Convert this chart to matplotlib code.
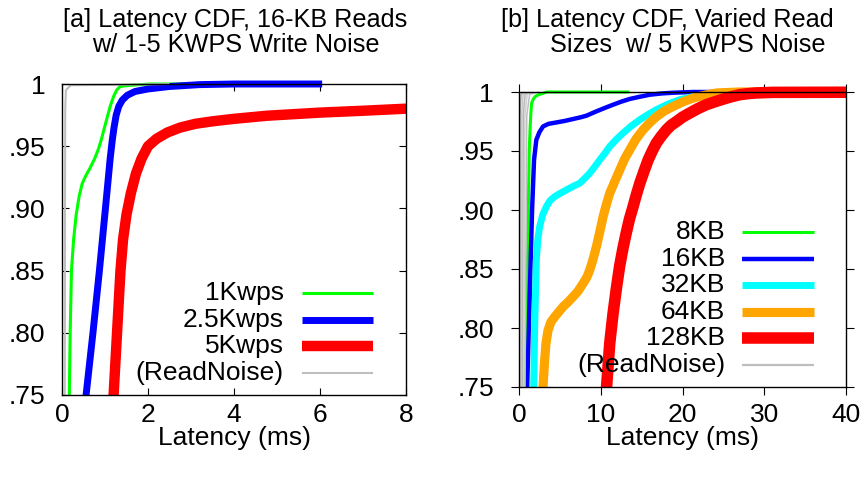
import matplotlib
matplotlib.use("Agg")
import matplotlib.pyplot as plt
from matplotlib.patches import Rectangle

plt.rcParams["font.family"] = ["Liberation Sans", "DejaVu Sans"]
plt.rcParams["font.size"] = 19

# ---------------- panel [a]: 16-KB reads under write noise ----------------
lat_1k = [0.15, 0.17, 0.19, 0.22, 0.27, 0.33, 0.40, 0.47, 0.55, 0.66, 0.76, 0.85, 0.92, 0.98,
          1.05, 1.12, 1.20, 1.27, 1.35, 1.6, 2.05, 3.0]
cdf_1k = [0.745, 0.75, 0.80, 0.85, 0.875, 0.895, 0.91, 0.92, 0.926, 0.933, 0.94, 0.948, 0.956, 0.964,
          0.973, 0.982, 0.99, 0.995, 0.998, 0.999, 1.0, 1.0]

lat_2k5 = [0.53, 0.56, 0.72, 0.87, 1.01, 1.12, 1.17, 1.21, 1.26, 1.32, 1.40, 1.52, 1.70, 2.0,
           2.5, 3.2, 4.0, 6.05]
cdf_2k5 = [0.745, 0.75, 0.80, 0.85, 0.90, 0.94, 0.955, 0.965, 0.975, 0.982, 0.987, 0.991, 0.994, 0.996,
           0.998, 0.9995, 1.0, 1.0]

lat_5k = [1.18, 1.20, 1.28, 1.36, 1.42, 1.50, 1.60, 1.72, 1.85, 2.0, 2.2, 2.45, 2.75, 3.1, 3.5,
          4.0, 4.77, 6.0, 7.0, 8.2]
cdf_5k = [0.745, 0.75, 0.80, 0.85, 0.875, 0.895, 0.912, 0.928, 0.940, 0.950, 0.956, 0.961, 0.965, 0.968, 0.970,
          0.972, 0.9745, 0.977, 0.9785, 0.9805]

lat_rn_a = [0.06, 0.065, 0.07, 0.075, 0.09, 0.2, 1.5, 2.5]
cdf_rn_a = [0.745, 0.75, 0.90, 0.98, 0.995, 0.999, 0.9995, 1.0]

labels_a = ["1Kwps", "2.5Kwps", "5Kwps", "(ReadNoise)"]
xticks_a = [0, 2, 4, 6, 8]

# ---------------- panel [b]: varied read sizes under 5 KWPS noise ----------------
lat_8 = [0.82, 0.85, 0.95, 1.1, 1.25, 1.35, 1.45, 1.55, 1.75, 1.96, 2.3, 2.57, 3.0, 3.4, 13.5]
cdf_8 = [0.745, 0.75, 0.82, 0.88, 0.95, 0.968, 0.982, 0.9907, 0.994, 0.996, 0.9975, 0.998, 0.999, 1.0, 1.0]

lat_16 = [0.95, 1.0, 1.2, 1.4, 1.6, 1.84, 2.12, 2.5, 2.94, 3.6, 4.57, 5.6, 6.61, 7.5, 8.24, 9.0, 9.47,
          10.5, 11.5, 12.5, 13.55, 14.8, 16.0, 17.5, 18.9, 21.3, 28.0]
cdf_16 = [0.745, 0.75, 0.80, 0.85, 0.90, 0.9425, 0.9595, 0.966, 0.9708, 0.9730, 0.9742, 0.9755, 0.9771,
          0.9785, 0.9799, 0.9822, 0.9836, 0.9865, 0.9892, 0.9918, 0.9941, 0.996, 0.9977, 0.9988, 0.9994,
          1.0, 1.0]

lat_32 = [1.78, 1.80, 1.92, 2.12, 2.3, 2.53, 2.9, 3.35, 3.8, 4.37, 5.0, 5.8, 6.6, 7.43, 8.0, 8.65, 9.3,
          9.88, 10.5, 11.1, 11.9, 12.73, 13.7, 14.78, 15.8, 16.8, 18.2, 19.67, 21.2, 22.9, 24.5, 26.2, 32.0]
cdf_32 = [0.745, 0.75, 0.801, 0.8576, 0.875, 0.8859, 0.896, 0.9029, 0.908, 0.9114, 0.914, 0.917, 0.92,
          0.9227, 0.9265, 0.9312, 0.937, 0.9425, 0.948, 0.9538, 0.9598, 0.9652, 0.971, 0.9765, 0.981, 0.985,
          0.9897, 0.9935, 0.996, 0.9977, 0.999, 0.9997, 1.0]

lat_64 = [2.9, 2.94, 3.14, 3.3, 3.55, 3.9, 4.37, 5.39, 6.0, 6.6, 7.2, 7.84, 8.3, 8.65, 9.05, 9.47, 9.9,
          10.29, 10.7, 11.1, 11.7, 12.33, 12.9, 13.55, 14.3, 15.18, 16.0, 16.8, 17.8, 18.86, 20.0, 21.3,
          22.7, 24.2, 27.0, 40.0]
cdf_64 = [0.745, 0.75, 0.773, 0.787, 0.798, 0.805, 0.8095, 0.818, 0.822, 0.8264, 0.831, 0.8378, 0.843,
          0.849, 0.858, 0.869, 0.882, 0.8944, 0.905, 0.9142, 0.924, 0.934, 0.943, 0.951, 0.96, 0.968, 0.974,
          0.979, 0.984, 0.9878, 0.9915, 0.9949, 0.9973, 0.9992, 1.0, 1.0]

lat_128 = [10.6, 10.7, 11.1, 11.5, 11.9, 12.3, 12.7, 13.1, 13.5, 13.96, 14.36, 14.78, 15.3, 15.8, 16.3,
           16.8, 17.4, 18.04, 18.6, 19.27, 20.0, 20.9, 21.9, 22.9, 24.0, 25.0, 26.0, 27.0, 28.0, 29.0,
           31.1, 40.0]
cdf_128 = [0.745, 0.749, 0.787, 0.812, 0.833, 0.852, 0.867, 0.880, 0.892, 0.903, 0.913, 0.9227, 0.933,
           0.9425, 0.950, 0.9567, 0.9625, 0.968, 0.9718, 0.975, 0.9787, 0.9822, 0.986, 0.9892, 0.9918,
           0.994, 0.996, 0.9977, 0.9986, 0.9992, 0.9997, 0.9998]

# read-only (no write noise) CDFs, one per read size
lat_rn_b = [
    [0.10, 0.11, 0.13, 0.25, 0.6],
    [0.25, 0.27, 0.32, 0.50, 0.9],
    [0.40, 0.43, 0.52, 0.75, 1.3],
    [0.55, 0.58, 0.72, 1.00, 1.8],
    [0.70, 0.74, 0.95, 1.30, 2.5],
]
cdf_rn_b = [0.745, 0.75, 0.98, 0.998, 1.0]

labels_b = ["8KB", "16KB", "32KB", "64KB", "128KB", "(ReadNoise)"]
xticks_b = [0, 10, 20, 30, 40]

yticks = [0.75, 0.80, 0.85, 0.90, 0.95, 1.0]
ytick_labels = [".75", ".80", ".85", ".90", ".95", "1"]

GREEN, BLUE, RED, CYAN, ORANGE, GREY = "#00ff00", "#0000ff", "#ff0000", "#00ffff", "#ffa500", "#bebebe"
GREY_SHADES = ["#a8a8a8", "#c8c8c8", "#b8b8b8", "#d0d0d0", "#c0c0c0"]

W, H = 868, 479
fig = plt.figure(figsize=(W / 100, H / 100), dpi=100)


def px_axes(x0, y0, x1, y1):
    return fig.add_axes([x0 / W, 1 - y1 / H, (x1 - x0) / W, (y1 - y0) / H])


ax_a = px_axes(62, 84, 406, 395)
ax_b = px_axes(519, 92, 846, 387)


def draw(ax, x, y, color, lw):
    (ln,) = ax.plot(x, y, color=color, lw=lw, solid_joinstyle="round", solid_capstyle="butt")
    ln.set_clip_path(Rectangle((0, 0), 1, 1.06, transform=ax.transAxes))
    return ln


def key(ax, labels, styles, text_x, h0, h1, y_top, step_px, ax_h_px):
    for i, (lab, (c, lw)) in enumerate(zip(labels, styles)):
        yf = y_top - i * step_px / ax_h_px
        ax.plot([h0, h1], [yf, yf], color=c, lw=lw, transform=ax.transAxes, clip_on=False,
                solid_capstyle="butt")
        ax.text(text_x, yf, lab, transform=ax.transAxes, ha="right", va="center", fontsize=19)


# panel [a]
styles_a = [(GREEN, 2.2), (BLUE, 5.0), (RED, 7.5), (GREY, 1.5)]
for (x, y), (c, lw) in zip([(lat_1k, cdf_1k), (lat_2k5, cdf_2k5), (lat_5k, cdf_5k), (lat_rn_a, cdf_rn_a)], styles_a):
    draw(ax_a, x, y, c, lw)
ax_a.set_xlim(0, 8)
ax_a.set_ylim(0.75, 1.0)
ax_a.set_xticks(xticks_a)
ax_a.set_yticks(yticks)
ax_a.set_yticklabels(ytick_labels)
ax_a.tick_params(direction="in", length=5, width=0.8, top=True, right=True, labelsize=19)
ax_a.tick_params(axis="y", pad=12)
ax_a.tick_params(axis="x", pad=6)
key(ax_a, labels_a, styles_a, 0.645, 0.698, 0.904, (395 - 293) / 311, 26.7, 311)

# panel [b]
styles_b = [(GREEN, 2.2), (BLUE, 3.2), (CYAN, 5.0), (ORANGE, 6.6), (RED, 8.3), (GREY, 1.6)]
for (x, y), (c, lw) in zip([(lat_8, cdf_8), (lat_16, cdf_16), (lat_32, cdf_32), (lat_64, cdf_64),
                            (lat_128, cdf_128)], styles_b[:5]):
    draw(ax_b, x, y, c, lw)
for x, shade in zip(lat_rn_b, GREY_SHADES):
    draw(ax_b, x, cdf_rn_b, shade, 1.1)
ax_b.set_xlim(0, 40)
ax_b.set_ylim(0.75, 1.0)
ax_b.set_xticks(xticks_b)
ax_b.set_yticks(yticks)
ax_b.set_yticklabels(ytick_labels)
ax_b.tick_params(direction="out", length=6, width=0.8, top=True, right=True, labelsize=19)
ax_b.tick_params(axis="y", pad=12)
ax_b.tick_params(axis="x", pad=5.5)
key(ax_b, labels_b, styles_b, 0.630, 0.682, 0.902, (387 - 232) / 295, 26.6, 295)

for ax in (ax_a, ax_b):
    for s in ax.spines.values():
        s.set_linewidth(1.0)
        s.set_zorder(5)
    ax.set_xlabel("Latency (ms)", fontsize=19, va="center")

ax_a.xaxis.set_label_coords(0.5, (395 - 438) / 311)
ax_b.xaxis.set_label_coords(0.5, (387 - 438) / 295)

# two-line panel titles
fig.text(235 / W, 1 - 20 / H, "[a] Latency CDF, 16-KB Reads", ha="center", va="center", fontsize=18.2)
fig.text(236 / W, 1 - 45 / H, "w/ 1-5 KWPS Write Noise", ha="center", va="center", fontsize=18.2)
fig.text(667 / W, 1 - 20 / H, "[b] Latency CDF, Varied Read", ha="center", va="center", fontsize=18.2)
fig.text(688 / W, 1 - 45 / H, "Sizes  w/ 5 KWPS Noise", ha="center", va="center", fontsize=18.2)

fig.savefig("out.png", dpi=100)
